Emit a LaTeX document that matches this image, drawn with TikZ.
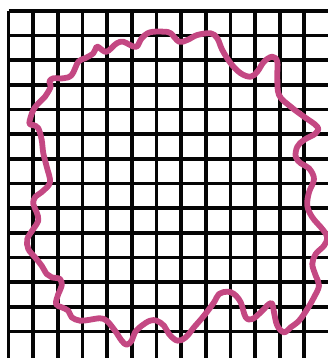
\documentclass[tikz,border=0pt]{standalone}
\usepackage{xcolor}
\usepackage{tikz}
\definecolor{blobpink}{HTML}{C44883}
\definecolor{gridblack}{HTML}{050505}
\tikzset{
  gridline/.style={draw=gridblack,line width=3.7pt},
  blob/.style={draw=blobpink,line width=5.8pt,line cap=round,line join=round}
}

\begin{document}
\begin{tikzpicture}[x=1pt,y=-1pt]
    \useasboundingbox (0,0) rectangle (328,358);
    \clip (0,0) rectangle (328,358);
    % grid
    \foreach \i in {0,...,12}
      \draw[gridline] ({8.5+24.65*\i},11) -- ({8.5+24.65*\i},360);
    \foreach \j in {0,...,13}
      \draw[gridline] (8.5,{11+24.65*\j}) -- (330,{11+24.65*\j});
    % wavy outline
    \draw[blob] plot[smooth cycle,tension=0.6] coordinates {
      (150,32.3) (164,31.7) (170.7,33.3) (179,41.7) (187.3,40) (197.3,35)
      (210.7,33.3) (217.3,38.3) (222.3,50) (230.7,63.3) (240.7,73.3)
      (250.7,76.7) (257.3,71.7) (264,61.7) (272.3,56.7) (277.3,61.7)
      (277.3,76.7) (279,95) (290.7,106.7) (304,116.7) (317.3,126.7)
      (315.7,133.3) (304,140) (297.3,146.7) (295.7,156.7) (300.7,163.3)
      (309,168.3) (314,179) (309,192.3) (307.3,205.7) (312.3,217.3)
      (322.3,229) (327.3,237.3) (324,245.7) (315.7,254) (312.3,264)
      (315.7,275.7) (319,285.7) (314,297.3) (307.3,309) (299,320.7)
      (290.7,327.3) (284,332.3) (277.3,325.7) (274,312.3) (272.3,304)
      (269,304) (260.7,312.3) (252.3,319) (245.7,317.3) (240.7,302.3)
      (234,294) (227.3,291.7) (219,294) (214,302.3) (204,315.7)
      (194,327.3) (185.7,337.3) (177.3,340.7) (169,334) (164,325.7)
      (156.7,320.7) (150,320.7) (141.7,325.7) (135,332.3) (131.7,340.7)
      (126.7,344.7) (121.7,340.7) (115,330.7) (106.7,320.7) (100,318.3)
      (90,319.7) (80,320.7) (71.7,317.3) (68.3,310.7) (61.7,307.3)
      (56,304) (58.3,294) (61.7,285.7) (60,279) (51.7,277.3) (46.7,274)
      (41.7,265.7) (35,257.3) (28.3,249) (27.3,239) (33.3,229)
      (38.3,220.7) (36.7,212.3) (33.3,204) (35,197.3) (43.3,190.7)
      (50,182) (46.7,166.7) (43.3,153.3) (41.7,140) (38.3,128.3)
      (33.3,125) (29.3,123.3) (33.3,110) (40,101.7) (45,96.7)
      (50.7,86.7) (49.3,81.7) (53.3,78.3) (63.3,78.3) (71.7,75)
      (78.3,61.7) (85,58.3) (93.3,53.3) (96.7,46.7) (100,48.3)
      (106.7,51.7) (116.7,43.3) (123.3,41.7) (130,45) (136.7,46.7)
      (141.7,38.3)};
\end{tikzpicture}
\end{document}
